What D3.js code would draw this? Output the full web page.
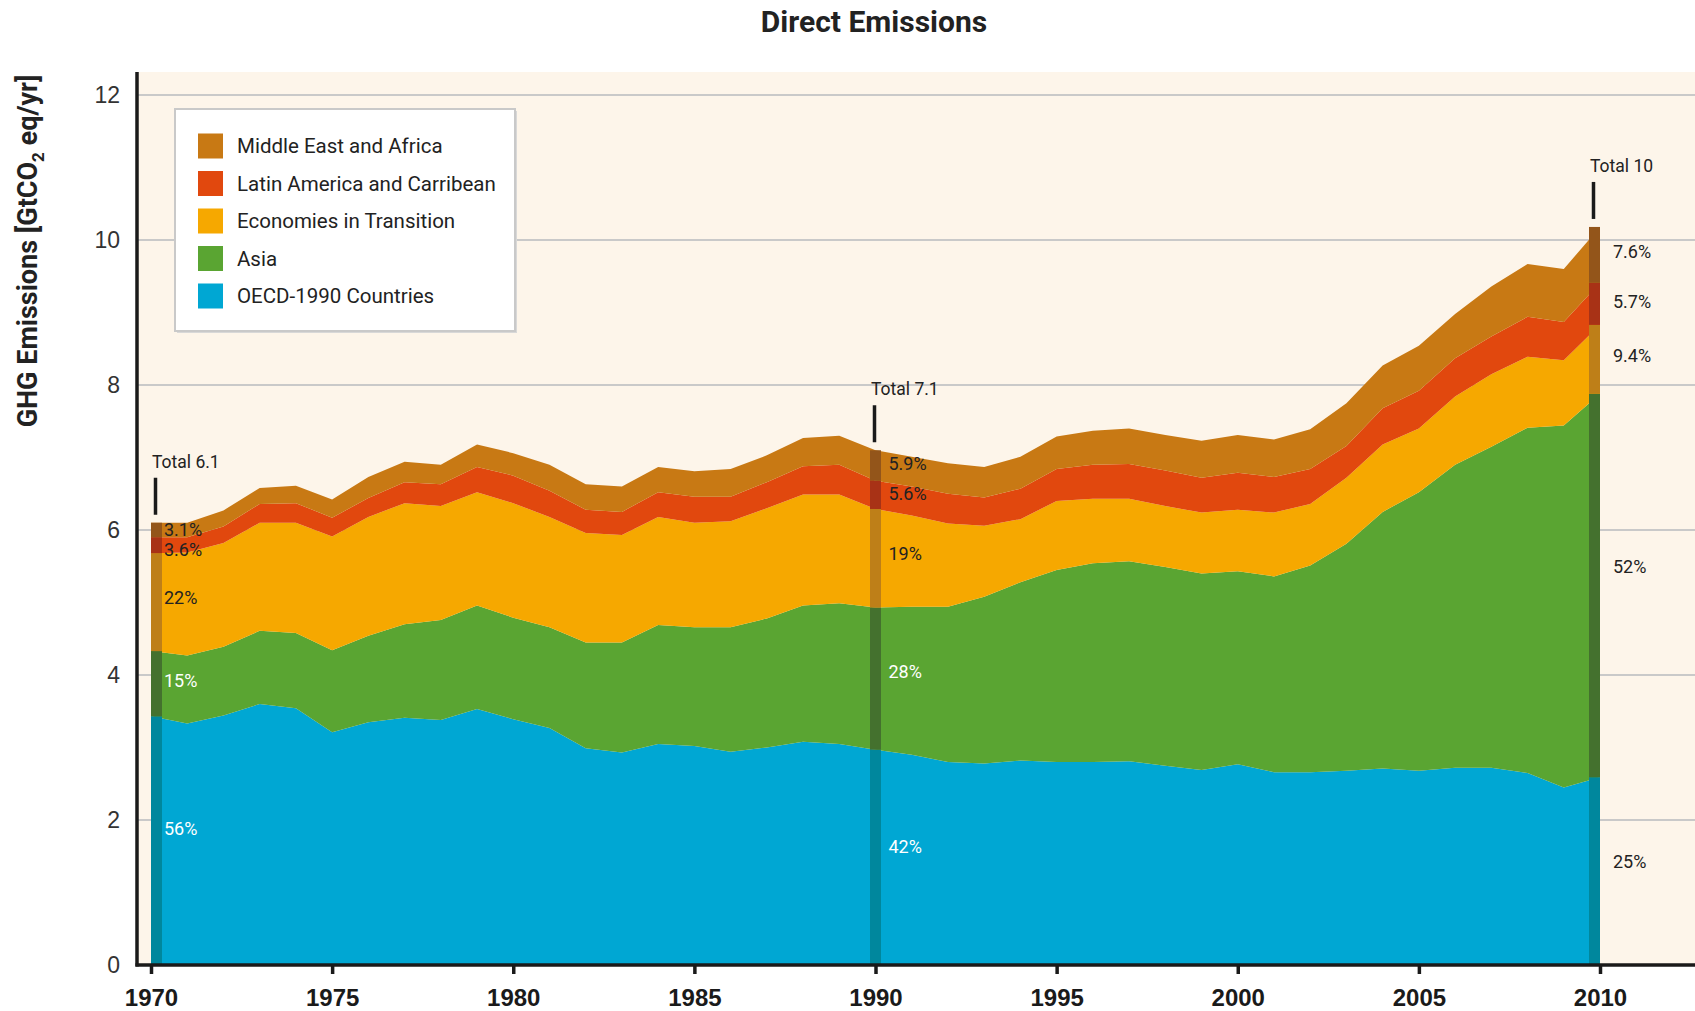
<!DOCTYPE html>
<html>
<head>
<meta charset="utf-8">
<script src="https://cdn.jsdelivr.net/npm/d3@7"></script>
<style>
    body { margin: 0; background: #fff; }
    svg { display: block; font-family: Roboto, "Open Sans", sans-serif; }
</style>
</head>
<body>
<svg id="chart" width="1695" height="1011"></svg>
<script>
    // values in GtCO2eq/yr
    const years = [1970, 1971, 1972, 1973, 1974, 1975, 1976, 1977, 1978, 1979,
                   1980, 1981, 1982, 1983, 1984, 1985, 1986, 1987, 1988, 1989,
                   1990, 1991, 1992, 1993, 1994, 1995, 1996, 1997, 1998, 1999,
                   2000, 2001, 2002, 2003, 2004, 2005, 2006, 2007, 2008, 2009, 2010];
    const oecd  = [3.43, 3.33, 3.44, 3.60, 3.54, 3.21, 3.35, 3.41, 3.38, 3.53,
                   3.39, 3.27, 2.99, 2.93, 3.05, 3.02, 2.94, 3.00, 3.08, 3.05,
                   2.97, 2.90, 2.80, 2.78, 2.82, 2.80, 2.80, 2.81, 2.75, 2.69,
                   2.77, 2.66, 2.66, 2.68, 2.71, 2.68, 2.72, 2.72, 2.65, 2.45, 2.59];
    const asia  = [0.90, 0.94, 0.95, 1.01, 1.04, 1.13, 1.19, 1.29, 1.38, 1.43,
                   1.40, 1.39, 1.46, 1.52, 1.64, 1.64, 1.72, 1.78, 1.88, 1.94,
                   1.96, 2.04, 2.14, 2.30, 2.46, 2.65, 2.74, 2.76, 2.74, 2.71,
                   2.66, 2.70, 2.85, 3.13, 3.54, 3.84, 4.18, 4.43, 4.76, 4.99, 5.29];
    const eit   = [1.35, 1.42, 1.43, 1.49, 1.52, 1.57, 1.64, 1.67, 1.57, 1.56,
                   1.58, 1.52, 1.51, 1.48, 1.49, 1.44, 1.46, 1.52, 1.53, 1.50,
                   1.36, 1.26, 1.15, 0.98, 0.87, 0.95, 0.89, 0.86, 0.84, 0.84,
                   0.85, 0.88, 0.85, 0.91, 0.93, 0.88, 0.94, 1.00, 0.98, 0.90, 0.95];
    const latam = [0.22, 0.21, 0.23, 0.26, 0.27, 0.26, 0.26, 0.29, 0.30, 0.35,
                   0.38, 0.36, 0.32, 0.32, 0.34, 0.36, 0.34, 0.36, 0.39, 0.41,
                   0.39, 0.40, 0.41, 0.39, 0.42, 0.44, 0.47, 0.48, 0.49, 0.48,
                   0.51, 0.49, 0.48, 0.44, 0.50, 0.52, 0.53, 0.52, 0.55, 0.53, 0.58];
    const mea   = [0.20, 0.20, 0.22, 0.22, 0.24, 0.25, 0.29, 0.28, 0.27, 0.31,
                   0.31, 0.36, 0.35, 0.35, 0.35, 0.35, 0.38, 0.37, 0.39, 0.40,
                   0.42, 0.41, 0.42, 0.42, 0.44, 0.45, 0.47, 0.49, 0.49, 0.51,
                   0.52, 0.52, 0.55, 0.59, 0.59, 0.62, 0.61, 0.69, 0.73, 0.73, 0.77];

    const seriesKeys  = ['oecd', 'asia', 'eit', 'latam', 'mea'];
    const seriesNames = ['OECD-1990 Countries', 'Asia', 'Economies in Transition',
                         'Latin America and Carribean', 'Middle East and Africa'];
    const seriesColors = ['#00a7d3', '#5aa532', '#f6a800', '#e1480e', '#c87914'];
    const bandColors   = ['#00879d', '#44712e', '#be7f18', '#a83216', '#93551a'];

    const markYears   = [1970, 1990, 2010];
    const totalLabels = ['Total 6.1', 'Total 7.1', 'Total 10'];
    // shares, same order as seriesKeys
    const shareLabels = [
        ['56%', '15%', '22%', '3.6%', '3.1%'],
        ['42%', '28%', '19%', '5.6%', '5.9%'],
        ['25%', '52%', '9.4%', '5.7%', '7.6%']
    ];

    const yTicks = [0, 2, 4, 6, 8, 10, 12];
    const xTicks = [1970, 1975, 1980, 1985, 1990, 1995, 2000, 2005, 2010];

    const W = 1695, H = 1011;
    const plotLeft = 137, plotTop = 72, plotBottom = 965;

    const rows = years.map((yr, i) => ({
        year: yr, oecd: oecd[i], asia: asia[i], eit: eit[i], latam: latam[i], mea: mea[i]
    }));
    const stacked = d3.stack().keys(seriesKeys)(rows);

    const x = d3.scaleLinear().domain([1970, 2010]).range([151, 1600]);
    const y = d3.scaleLinear().domain([0, 12]).range([plotBottom, 95]);

    const svg = d3.select('#chart');

    // plot background
    svg.append('rect')
        .attr('x', plotLeft).attr('y', plotTop)
        .attr('width', W - plotLeft).attr('height', plotBottom - plotTop)
        .attr('fill', '#fdf5ea');

    // gridlines
    svg.append('g').selectAll('line')
        .data(yTicks.filter(d => d > 0))
        .join('line')
            .attr('x1', plotLeft).attr('x2', W)
            .attr('y1', d => y(d)).attr('y2', d => y(d))
            .attr('stroke', '#c9c9c9')
            .attr('stroke-width', 2);

    // stacked areas
    const area = d3.area()
        .x(d => x(d.data.year))
        .y0(d => y(d[0]))
        .y1(d => y(d[1]));

    svg.append('g').selectAll('path')
        .data(stacked)
        .join('path')
            .attr('d', area)
            .attr('fill', (d, i) => seriesColors[i]);

    // darker bands at the marked years
    const bandW = 11;
    const bandX = yr => Math.max(x(1970), Math.min(x(2010) - bandW, x(yr) - bandW / 2));

    markYears.forEach((yr, m) => {
        const idx = years.indexOf(yr);
        const g = svg.append('g');
        stacked.forEach((layer, i) => {
            const d = layer[idx];
            g.append('rect')
                .attr('x', bandX(yr))
                .attr('y', y(d[1]))
                .attr('width', bandW)
                .attr('height', y(d[0]) - y(d[1]))
                .attr('fill', bandColors[i]);
        });

        const top = y(stacked[stacked.length - 1][idx][1]);
        const cx = bandX(yr) + bandW / 2;
        g.append('line')
            .attr('x1', cx - 1).attr('x2', cx - 1)
            .attr('y1', top - 45).attr('y2', top - 8)
            .attr('stroke', '#1a1a1a')
            .attr('stroke-width', 3.5);
        g.append('text')
            .attr('x', bandX(yr) + 1)
            .attr('y', top - 55)
            .attr('font-size', 17.5)
            .attr('fill', '#222')
            .text(totalLabels[m]);

        // share labels, top layer first so small slices can be pushed down
        let prev = -Infinity;
        for (let i = stacked.length - 1; i >= 0; i--) {
            const d = stacked[i][idx];
            let cy = y(d[1]) + 0.45 * (y(d[0]) - y(d[1]));
            if (cy < prev + 20) cy = prev + 20;
            prev = cy;
            const light = i < 2 && yr < 2010;
            g.append('text')
                .attr('x', x(yr) + 13)
                .attr('y', cy)
                .attr('dy', '0.35em')
                .attr('font-size', 18)
                .attr('fill', light ? '#fff' : '#222')
                .text(shareLabels[m][i]);
        }
    });

    // axes
    const yAxis = svg.append('g')
        .attr('transform', `translate(${plotLeft},0)`)
        .call(d3.axisLeft(y).tickValues(yTicks).tickSize(0).tickPadding(17));
    yAxis.select('.domain').remove();
    yAxis.selectAll('text')
        .attr('font-size', 23)
        .attr('font-family', null)
        .attr('fill', '#333');

    const xAxis = svg.append('g')
        .attr('transform', `translate(0,${plotBottom})`)
        .call(d3.axisBottom(x).tickValues(xTicks).tickFormat(d3.format('d')).tickSize(9).tickSizeOuter(0).tickPadding(15));
    xAxis.select('.domain').remove();
    xAxis.selectAll('line').attr('stroke', '#1a1a1a').attr('stroke-width', 3.5);
    xAxis.selectAll('text')
        .attr('font-size', 24)
        .attr('font-weight', 'bold')
        .attr('font-family', null)
        .attr('fill', '#1a1a1a');

    svg.append('line')
        .attr('x1', plotLeft).attr('x2', plotLeft)
        .attr('y1', plotTop).attr('y2', plotBottom + 1.5)
        .attr('stroke', '#1a1a1a').attr('stroke-width', 3.5);
    svg.append('line')
        .attr('x1', plotLeft - 1.5).attr('x2', W)
        .attr('y1', plotBottom).attr('y2', plotBottom)
        .attr('stroke', '#1a1a1a').attr('stroke-width', 3.5);

    // legend
    const legend = svg.append('g').attr('transform', 'translate(175,109)');
    legend.append('rect')
        .attr('x', 2).attr('y', 2)
        .attr('width', 340).attr('height', 222)
        .attr('fill', '#d8d8d8');
    legend.append('rect')
        .attr('width', 340).attr('height', 222)
        .attr('fill', '#fff')
        .attr('stroke', '#c9c9c9')
        .attr('stroke-width', 2);
    const legendOrder = [4, 3, 2, 1, 0];
    legendOrder.forEach((s, r) => {
        const row = legend.append('g').attr('transform', `translate(23,${37 + r * 37.5})`);
        row.append('rect')
            .attr('x', 0).attr('y', -12.5)
            .attr('width', 25).attr('height', 25)
            .attr('fill', seriesColors[s]);
        row.append('text')
            .attr('x', 39).attr('dy', '0.36em')
            .attr('font-size', 20.5)
            .attr('fill', '#222')
            .text(seriesNames[s]);
    });

    // titles
    svg.append('text')
        .attr('x', 874).attr('y', 32)
        .attr('text-anchor', 'middle')
        .attr('font-size', 30)
        .attr('font-weight', 'bold')
        .attr('fill', '#222')
        .text('Direct Emissions');

    const yTitle = svg.append('text')
        .attr('transform', 'translate(37,251) rotate(-90)')
        .attr('text-anchor', 'middle')
        .attr('font-size', 27)
        .attr('font-weight', 'bold')
        .attr('fill', '#222');
    yTitle.append('tspan').text('GHG Emissions [GtCO');
    yTitle.append('tspan').attr('font-size', 17).attr('dy', 7).text('2');
    yTitle.append('tspan').attr('dy', -7).text(' eq/yr]');
</script>
</body>
</html>
